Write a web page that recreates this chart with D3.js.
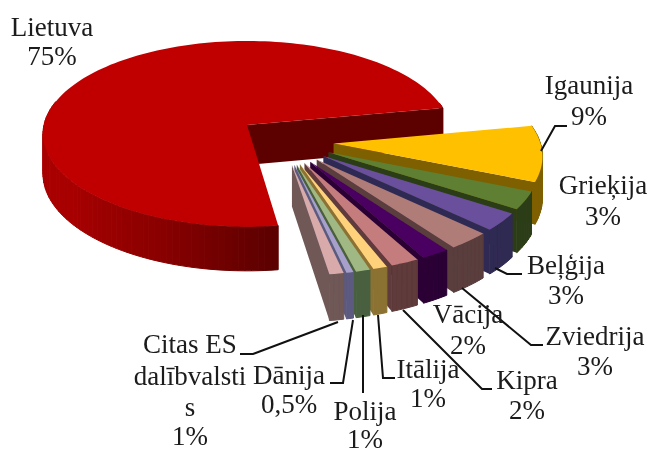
<!DOCTYPE html>
<html>
<head>
<meta charset="utf-8">
<script src="https://cdn.jsdelivr.net/npm/d3@7"></script>
<style>
  html, body { margin: 0; padding: 0; background: #fff; }
  text { font-family: "Liberation Serif", serif; font-size: 27px; fill: #1a1a1a; text-anchor: middle; }
</style>
</head>
<body>
<svg width="651" height="449"></svg>
<script>
const categories = ["Lietuva", "Igaunija", "Grieķija", "Beļģija", "Zviedrija", "Vācija", "Kipra", "Itālija", "Polija", "Dānija", "Citas ES|dalībvalsti|s"];
const shares = [74.6, 9.4, 3, 3, 3, 2, 2, 1, 1, 0.5, 1];
const shareLabels = ["75%", "9%", "3%", "3%", "3%", "2%", "2%", "1%", "1%", "0,5%", "1%"];
const topColors = ["#c00000", "#ffc000", "#5f8030", "#6a4f9c", "#b07b78", "#4a0060", "#c47c7c", "#fdd27a", "#9fb884", "#a8a0cc", "#d8aaaa"];
const sideColors = ["#5c0000", "#7f6000", "#2c3d14", "#2f2a52", "#5a3c3c", "#2a0034", "#5e3a3a", "#8c7232", "#48603f", "#5c5a80", "#6f5856"];
const redRim = ["#5c0000", "#8a0000", "#a80000", "#a80000"];

// centre x and baselines of each label block, same order as categories
const labelX = [52, 589, 603, 566, 595, 468, 527, 428, 365, 289, 190];
const labelY = [[36, 65], [94, 125], [194, 225], [274, 304], [345, 375], [323, 354], [389, 419], [378, 407], [420, 448], [384, 413], [353, 385, 416, 445]];
const leaders = [
  [[541, 151], [555, 126], [567, 126]],
  [[495, 268], [507, 274], [522, 274]],
  [[462, 288], [531, 345], [543, 345]],
  [[403, 310], [482, 389], [492, 389]],
  [[378, 315], [383, 378], [395, 378]],
  [[363, 315], [363, 393]],
  [[353, 320], [343, 383], [330, 383]],
  [[338, 322], [253, 354], [240, 354]]
];

const svg = d3.select("svg");

const defs = svg.append("defs");
defs.append("filter").attr("id", "soft")
  .append("feGaussianBlur").attr("stdDeviation", 0.5);

// pie plane -> screen, with a little perspective
const cx = 247, cy = 125, R = 203, Ry = 92, persp = 0.095, depth = 40;
const explode = 0.25, groupU = 0.17, groupV = 0.17;

function project(u, v, down) {
  const k = 1 / (1 - persp * v);
  return [cx + R * u * k, cy + Ry * v * k + (down ? depth * k : 0)];
}

const pie = d3.pie().sort(null).value(d => d)
  .startAngle(172 * Math.PI / 180)
  .endAngle(532 * Math.PI / 180);
const arcs = pie(shares);

const line = d3.line();
const chart = svg.append("g").attr("filter", "url(#soft)");

function drawSlice(d, i, ou, ov) {
  const a0 = d.startAngle, a1 = d.endAngle;
  const steps = Math.max(2, Math.ceil((a1 - a0) / 0.03));
  const angles = d3.range(steps + 1).map(s => a0 + (a1 - a0) * s / steps);
  const rim = a => [ou + Math.sin(a), ov - Math.cos(a)];

  // outer wall, in short pieces so the big slice can shade; the far side is hidden
  const shade = d3.scaleLinear().domain(d3.quantize(d3.interpolate(a0, a0 + 1.6), redRim.length)).range(redRim).clamp(true);
  d3.pairs(angles).forEach(([p, q]) => {
    if (Math.cos(p) > 0.25) return;
    const a = rim(p), b = rim(q);
    const c = i === 0 ? shade(p) : sideColors[i];
    chart.append("path")
      .attr("d", line([project(a[0], a[1], false), project(b[0], b[1], false), project(b[0], b[1], true), project(a[0], a[1], true)]) + "Z")
      .attr("fill", c)
      .attr("stroke", c)
      .attr("stroke-width", 1);
  });

  // wall on the clockwise end of the slice
  const end = rim(a1);
  chart.append("path")
    .attr("d", line([project(ou, ov, false), project(end[0], end[1], false), project(end[0], end[1], true), project(ou, ov, true)]) + "Z")
    .attr("fill", sideColors[i]);

  // top face
  const top = [project(ou, ov, false)].concat(angles.map(a => {
    const r = rim(a);
    return project(r[0], r[1], false);
  }));
  chart.append("path").attr("d", line(top) + "Z").attr("fill", topColors[i]);
}

arcs.forEach((d, i) => {
  if (i === 0) {
    drawSlice(d, i, 0, 0);
  } else {
    const mid = (d.startAngle + d.endAngle) / 2;
    drawSlice(d, i, groupU + explode * Math.sin(mid), groupV - explode * Math.cos(mid));
  }
});

svg.append("g").selectAll("path")
  .data(leaders)
  .enter()
  .append("path")
  .attr("d", d => line(d))
  .attr("fill", "none")
  .attr("stroke", "#111")
  .attr("stroke-width", 2);

const labels = svg.append("g").attr("filter", "url(#soft)").selectAll("g")
  .data(categories)
  .enter()
  .append("g");

labels.selectAll("text")
  .data((d, i) => d.split("|").concat(shareLabels[i]).map((t, j) => ({ t, x: labelX[i], y: labelY[i][j] })))
  .enter()
  .append("text")
  .attr("x", d => d.x)
  .attr("y", d => d.y)
  .text(d => d.t);
</script>
</body>
</html>
